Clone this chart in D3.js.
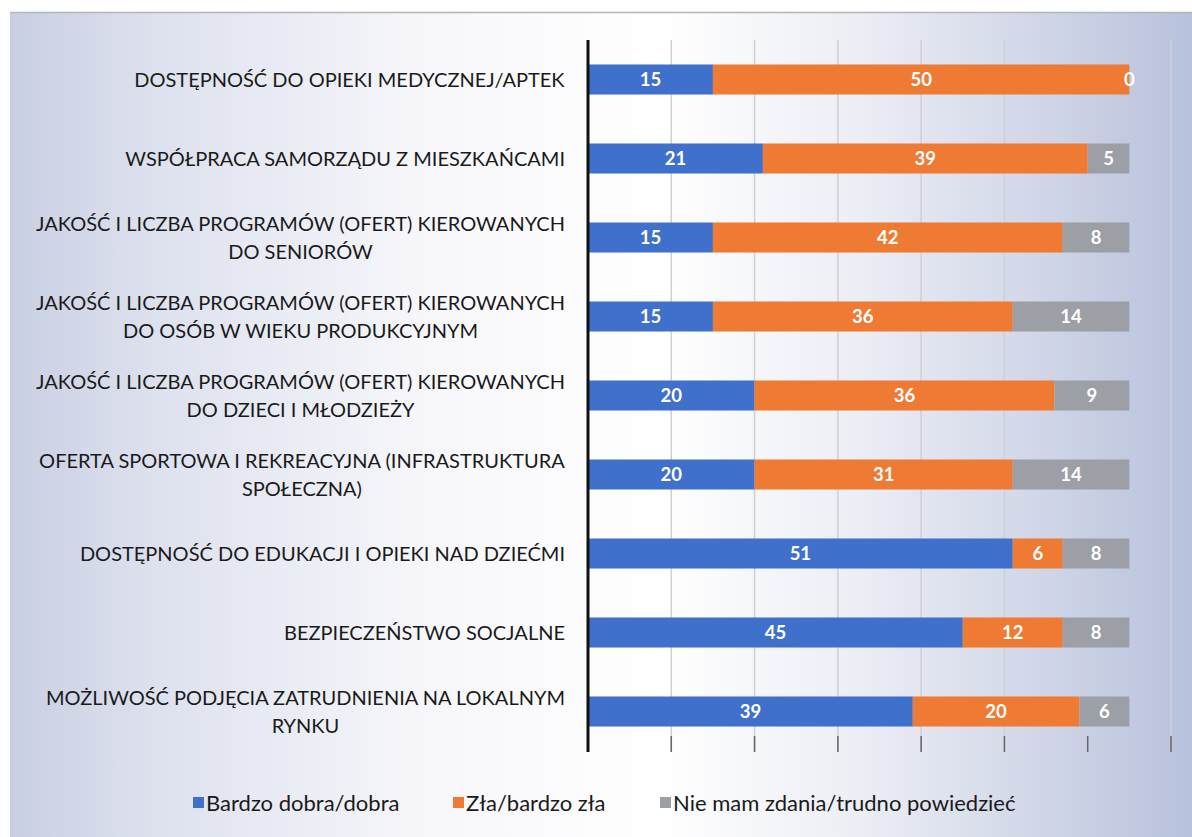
<!DOCTYPE html>
<html>
<head>
<meta charset="utf-8">
<script src="https://cdn.jsdelivr.net/npm/d3@7"></script>
<style>
  body { margin: 0; background: #fff; }
  svg { display: block; }
</style>
</head>
<body>
<script>
const categories = [
  ["DOSTĘPNOŚĆ DO OPIEKI MEDYCZNEJ/APTEK"],
  ["WSPÓŁPRACA SAMORZĄDU Z MIESZKAŃCAMI"],
  ["JAKOŚĆ I LICZBA PROGRAMÓW (OFERT) KIEROWANYCH", "DO SENIORÓW"],
  ["JAKOŚĆ I LICZBA PROGRAMÓW (OFERT) KIEROWANYCH", "DO OSÓB W WIEKU PRODUKCYJNYM"],
  ["JAKOŚĆ I LICZBA PROGRAMÓW (OFERT) KIEROWANYCH", "DO DZIECI I MŁODZIEŻY"],
  ["OFERTA SPORTOWA I REKREACYJNA (INFRASTRUKTURA", "SPOŁECZNA)"],
  ["DOSTĘPNOŚĆ DO EDUKACJI I OPIEKI NAD DZIEĆMI"],
  ["BEZPIECZEŃSTWO SOCJALNE"],
  ["MOŻLIWOŚĆ PODJĘCIA ZATRUDNIENIA NA LOKALNYM", "RYNKU"]
];
const good = [15, 21, 15, 15, 20, 20, 51, 45, 39];
const bad = [50, 39, 42, 36, 36, 31, 6, 12, 20];
const noOpinion = [0, 5, 8, 14, 9, 14, 8, 8, 6];
const seriesNames = ["Bardzo dobra/dobra", "Zła/bardzo zła", "Nie mam zdania/trudno powiedzieć"];
const xTicks = [0, 10, 20, 30, 40, 50, 60, 70];

const width = 1192, height = 837;
const colors = ["#3f70cc", "#ee7a33", "#9d9fa6"];

const svg = d3.select('body').append('svg')
    .attr('width', width).attr('height', height);

// background gradient like the scanned slide
const defs = svg.append('defs');
const grad = defs.append('linearGradient').attr('id', 'bg')
    .attr('x1', '0%').attr('x2', '100%').attr('y1', '0%').attr('y2', '0%');
[[0, '#c9cfe3'], [0.12, '#dde1ee'], [0.35, '#f7f7fb'], [0.55, '#ffffff'], [0.72, '#eceef5'], [0.88, '#cfd5e7'], [1, '#b8c1dc']]
    .forEach(s => grad.append('stop').attr('offset', s[0]).attr('stop-color', s[1]));

svg.append('rect').attr('x', 10).attr('y', 12).attr('width', width - 10).attr('height', height - 12)
    .attr('fill', 'url(#bg)');
svg.append('line').attr('x1', 10).attr('x2', width).attr('y1', 12.5).attr('y2', 12.5)
    .attr('stroke', '#b5b5b5').attr('stroke-width', 1.5);

const x = d3.scaleLinear().domain([0, 70]).range([588, 1171]);
const y = d3.scaleBand().domain(d3.range(categories.length))
    .range([40, 751]).paddingInner(0.62).paddingOuter(0.31);

// gridlines
svg.append('g').selectAll('line').data(xTicks.slice(1)).join('line')
    .attr('x1', d => x(d)).attr('x2', d => x(d))
    .attr('y1', 40).attr('y2', 752)
    .attr('stroke', '#cfcfd4').attr('stroke-width', 1.5);
// bottom tick marks
svg.append('g').selectAll('line').data(xTicks.slice(1)).join('line')
    .attr('x1', d => x(d)).attr('x2', d => x(d))
    .attr('y1', 736).attr('y2', 752)
    .attr('stroke', '#666').attr('stroke-width', 1.5);

// stacked bars
const rows = categories.map((c, i) => [good[i], bad[i], noOpinion[i]]);
const bars = svg.append('g');
rows.forEach((vals, i) => {
  let acc = 0;
  vals.forEach((v, j) => {
    const x0 = x(acc), x1 = x(acc + v);
    bars.append('rect')
        .attr('x', x0).attr('y', y(i))
        .attr('width', x1 - x0).attr('height', y.bandwidth())
        .attr('fill', colors[j]);
    bars.append('text')
        .attr('x', (x0 + x1) / 2).attr('y', y(i) + y.bandwidth() / 2)
        .attr('dy', '0.36em')
        .attr('text-anchor', 'middle')
        .attr('font-family', 'Lato, sans-serif').attr('font-weight', 'bold')
        .attr('font-size', 18.5).attr('fill', '#fff')
        .text(v);
    acc += v;
  });
});

// vertical axis line
svg.append('line').attr('x1', 588).attr('x2', 588).attr('y1', 40).attr('y2', 752)
    .attr('stroke', '#111').attr('stroke-width', 3);

// category labels, right aligned block, lines centered
const labelRight = 565;
const labels = svg.append('g')
    .attr('font-family', 'Lato, sans-serif').attr('font-size', 20).attr('fill', '#1a1a1a');
categories.forEach((lines, i) => {
  const cy = y(i) + y.bandwidth() / 2;
  const t = labels.append('text').attr('text-anchor', 'middle').attr('textLength', null);
  const lh = 28;
  const top = cy - (lines.length - 1) * lh / 2;
  lines.forEach((ln, k) => {
    t.append('tspan').attr('x', 0).attr('y', top + k * lh).attr('dy', '0.35em').text(ln);
  });
  const w = t.node().getBBox().width;
  t.attr('transform', `translate(${labelRight - w / 2},0)`);
});

// legend
const legendX = [193, 453, 660];
const legend = svg.append('g').attr('font-family', 'Lato, sans-serif').attr('font-size', 22).attr('fill', '#1a1a1a');
seriesNames.forEach((n, i) => {
  legend.append('rect').attr('x', legendX[i]).attr('y', 797).attr('width', 11).attr('height', 11)
      .attr('fill', colors[i]);
  legend.append('text').attr('x', legendX[i] + 13).attr('y', 803).attr('dy', '0.35em').text(n);
});
</script>
</body>
</html>
